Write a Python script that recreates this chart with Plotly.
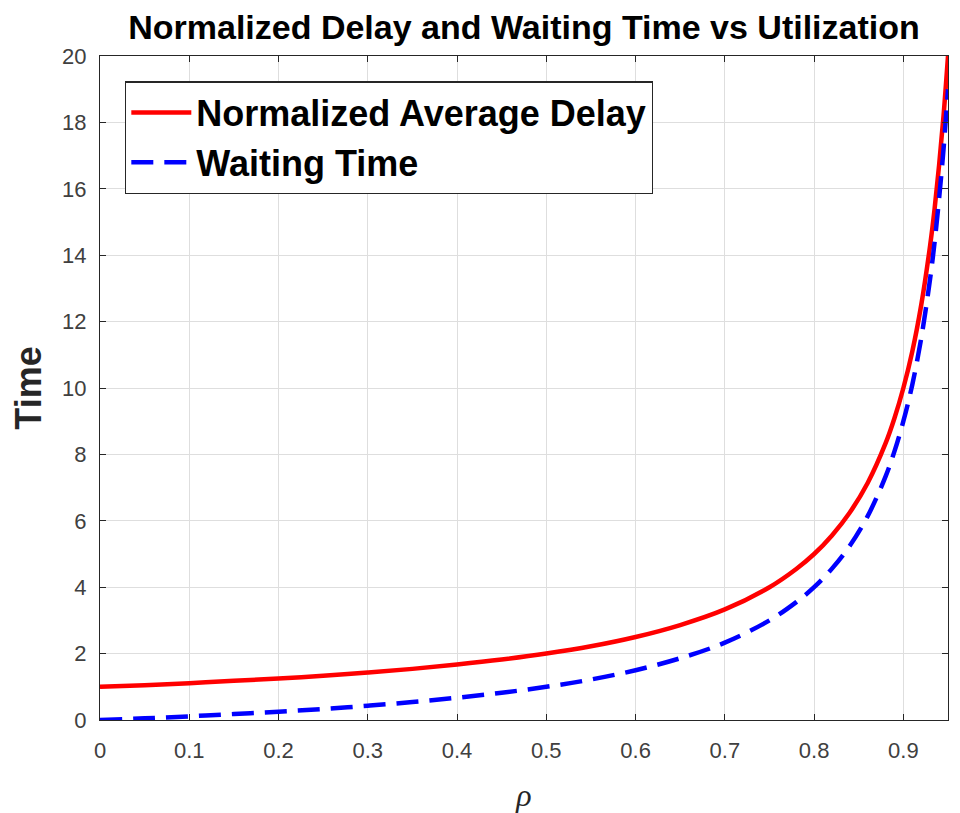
import plotly.graph_objects as go

rho = [0.0, 0.05, 0.10, 0.15, 0.20, 0.25, 0.30, 0.35, 0.40, 0.45, 0.50, 0.55, 0.60,
       0.65, 0.70, 0.75, 0.78, 0.80, 0.82, 0.84, 0.86, 0.88, 0.89, 0.90, 0.91,
       0.92, 0.93, 0.935, 0.94, 0.945, 0.95]
delay = [1.00, 1.05, 1.11, 1.18, 1.25, 1.33, 1.43, 1.54, 1.67, 1.82, 2.00, 2.22, 2.50,
         2.86, 3.33, 4.00, 4.55, 5.00, 5.56, 6.25, 7.14, 8.33, 9.09, 10.0, 11.1,
         12.5, 14.3, 15.4, 16.7, 18.2, 20.0]
waiting = [0.00, 0.05, 0.11, 0.18, 0.25, 0.33, 0.43, 0.54, 0.67, 0.82, 1.00, 1.22, 1.50,
           1.86, 2.33, 3.00, 3.55, 4.00, 4.56, 5.25, 6.14, 7.33, 8.09, 9.0, 10.1,
           11.5, 13.3, 14.4, 15.7, 17.2, 19.0]
x_ticks = [0, 0.1, 0.2, 0.3, 0.4, 0.5, 0.6, 0.7, 0.8, 0.9]
y_ticks = [0, 2, 4, 6, 8, 10, 12, 14, 16, 18, 20]

fig = go.Figure()
fig.add_trace(go.Scatter(x=rho, y=delay, mode="lines", name="<b>Normalized Average Delay</b>",
                         line=dict(color="#ff0000", width=4.5, shape="spline")))
fig.add_trace(go.Scatter(x=rho, y=waiting, mode="lines", name="<b>Waiting Time</b>",
                         line=dict(color="#0000ff", width=4.5, dash="22px,11px", shape="spline")))

axis_common = dict(showline=True, linecolor="#262626", linewidth=1.3, mirror="allticks",
                   ticks="inside", ticklen=6, tickcolor="#262626",
                   showgrid=True, gridcolor="#dedede", gridwidth=1, zeroline=False,
                   automargin=False,
                   tickfont=dict(family="Liberation Sans, Arial", size=22, color="#404040"))

fig.update_xaxes(range=[0, 0.95], tickvals=x_ticks, ticktext=[str(t) for t in x_ticks],
                 ticklabelstandoff=10,
                 title=dict(text="<i>ρ</i>", font=dict(family="Liberation Serif, DejaVu Serif", size=32, color="#262626"), standoff=27),
                 **axis_common)
fig.update_yaxes(range=[0, 20], tickvals=y_ticks, ticklabelstandoff=8,
                 title=dict(text="<b>Time</b>", font=dict(family="Liberation Sans, Arial", size=36, color="#262626"), standoff=11),
                 **axis_common)

H = 805
fig.update_layout(
    width=952, height=H,
    margin=dict(l=92, r=12, t=48, b=93),
    paper_bgcolor="white", plot_bgcolor="white",
    title=dict(text="<b>Normalized Delay and Waiting Time vs Utilization</b>",
               font=dict(family="Liberation Sans, Arial", size=34, color="black"),
               x=(524 - 8) / 952, xanchor="center", xref="container",
               y=1 - 7 / H, yanchor="top", yref="container"),
    legend=dict(x=0.0295, y=0.962, xanchor="left", yanchor="top",
                bgcolor="white", bordercolor="#262626", borderwidth=1.3,
                font=dict(family="Liberation Sans, Arial", size=36, color="black"),
                itemwidth=60, tracegroupgap=0),
    showlegend=True,
)

fig.write_html("out.html")
